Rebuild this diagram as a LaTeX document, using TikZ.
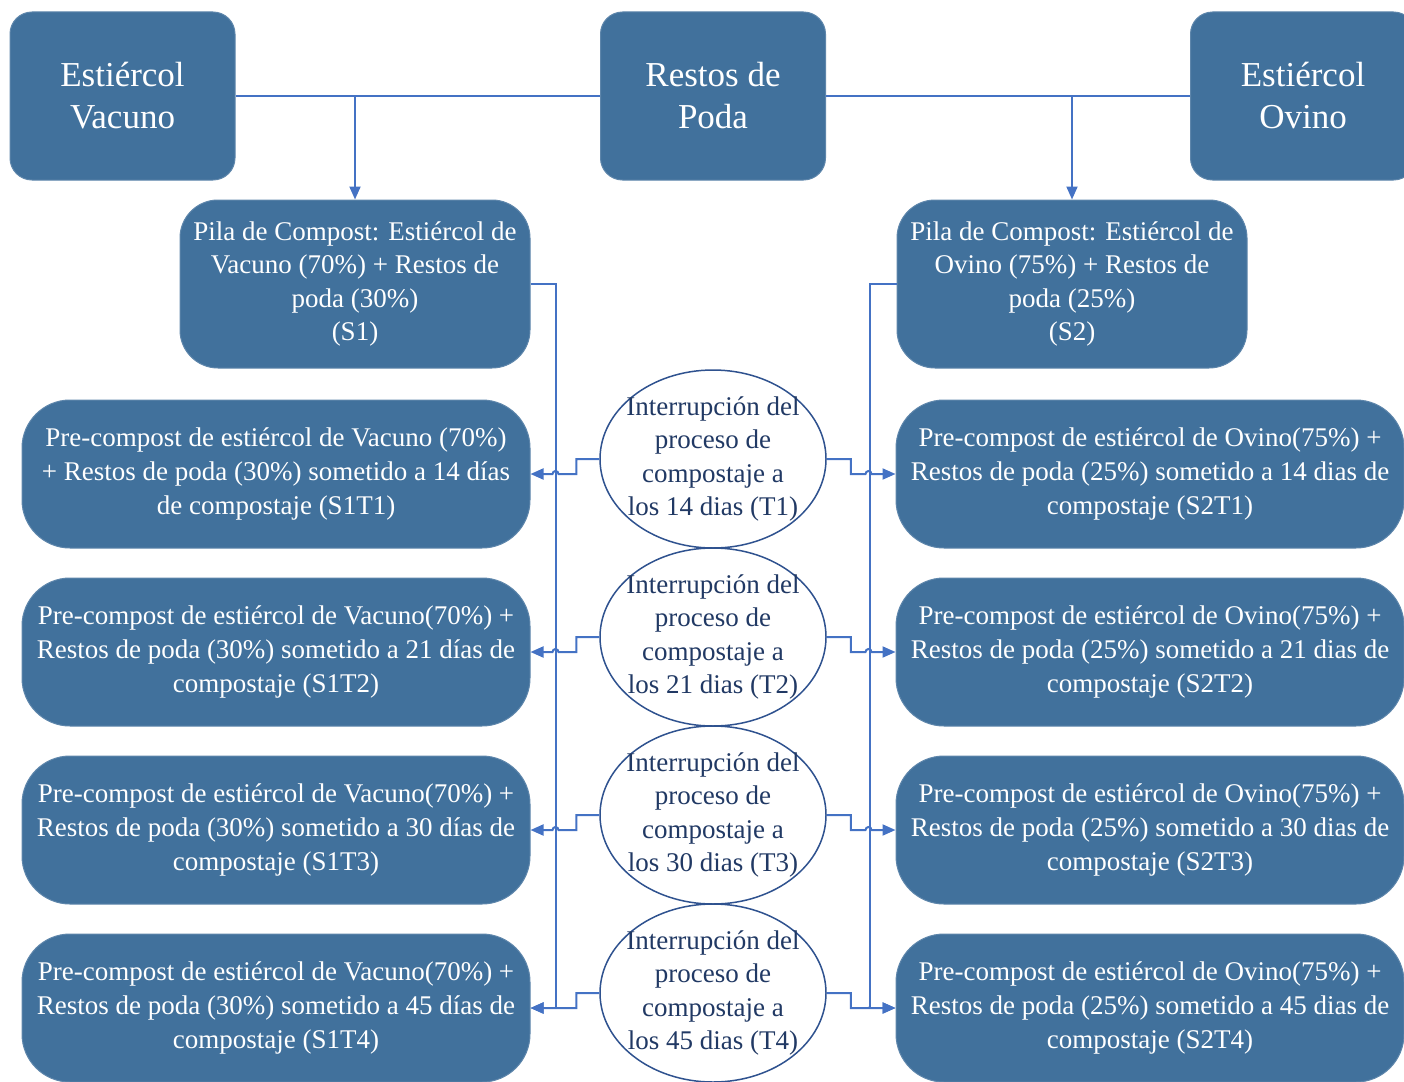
\documentclass[tikz,border=0pt]{standalone}
\usepackage{fontspec}
\setmainfont{Liberation Serif}
\usetikzlibrary{arrows.meta}
\definecolor{boxblue}{HTML}{41719C}
\definecolor{linkblue}{HTML}{4472C4}
\definecolor{navy}{HTML}{2F528F}
\tikzset{
  box/.style={draw=boxblue!85!white, line width=1pt, fill=boxblue, text=white,
    align=center, inner sep=0pt},
  srcbox/.style={box, rounded corners=22pt, minimum width=225pt, minimum height=168pt,
    font=\fontsize{35}{42}\selectfont},
  pilebox/.style={box, rounded corners=38pt, minimum width=350pt, minimum height=168pt,
    font=\fontsize{27}{33.5}\selectfont},
  prebox/.style={box, rounded corners=48pt, minimum width=508pt, minimum height=148pt,
    font=\fontsize{27}{34}\selectfont},
  stopnode/.style={ellipse, draw=navy, line width=1.5pt, fill=white, text=navy!70!black,
    minimum width=226pt, minimum height=178pt, inner xsep=-14pt, inner ysep=-10pt,
    align=center, font=\fontsize{27}{33.5}\selectfont},
  link/.style={draw=linkblue, line width=2pt},
  conn/.style={link, -{Triangle[length=13pt,width=11pt]}}
}
\usetikzlibrary{shapes.geometric}
\begin{document}
\begin{tikzpicture}[x=1pt, y=-1pt]
  \useasboundingbox (0,0) rectangle (1404,1081);
  % sources
  \node[srcbox] (vacuno) at (122.5,96) {Estiércol\\Vacuno};
  \node[srcbox] (poda) at (713,96) {Restos de\\Poda};
  \node[srcbox] (ovino) at (1303,96) {Estiércol\\Ovino};
  % compost piles
  \node[pilebox] (s1) at (355,284) {Pila de Compost: Estiércol de\\Vacuno (70\%) + Restos de\\poda (30\%)\\(S1)};
  \node[pilebox] (s2) at (1072,284) {Pila de Compost: Estiércol de\\Ovino (75\%) + Restos de\\poda (25\%)\\(S2)};
  \draw[link] (vacuno) -- (poda) -- (ovino);
  \draw[conn] (s1.north |- vacuno.east) -- (s1.north);
  \draw[conn] (s2.north |- ovino.west) -- (s2.north);
  % interruptions and pre-compost
  \foreach \d/\t [count=\i] in {14/1, 21/2, 30/3, 45/4} {
    \node[stopnode] (t\i) at (713, 281+178*\i) {Interrupción del\\proceso de\\compostaje a\\los \d\ dias (T\t)};
    \node[prebox] (l\i) at (276, 296+178*\i) {\ifnum\i=1
        Pre-compost de estiércol de Vacuno (70\%)\\+ Restos de poda (30\%) sometido a \d\ días\\de compostaje (S1T\t)%
      \else
        Pre-compost de estiércol de Vacuno(70\%) +\\Restos de poda (30\%) sometido a \d\ días de\\compostaje (S1T\t)%
      \fi};
    \node[prebox] (r\i) at (1150, 296+178*\i) {Pre-compost de estiércol de Ovino(75\%) +\\Restos de poda (25\%) sometido a \d\ dias de\\compostaje (S2T\t)};
  }
  \draw[conn] (s1.east) -- ++(25,0) |- (l4.east);
  \draw[conn] (s2.west) -- ++(-27,0) |- (r4.west);
  \foreach \i/\hop in {1/3, 2/3, 3/3, 4/0.01} {
    \draw[conn] (t\i.west) -- ++(-23,0) |- ([xshift=25pt+\hop pt]l\i.east)
      arc[start angle=0, end angle=-180, radius=\hop] -- (l\i.east);
    \draw[conn] (t\i.east) -- ++(24,0) |- ([xshift=-27pt-\hop pt]r\i.west)
      arc[start angle=180, end angle=360, radius=\hop] -- (r\i.west);
  }
\end{tikzpicture}
\end{document}
